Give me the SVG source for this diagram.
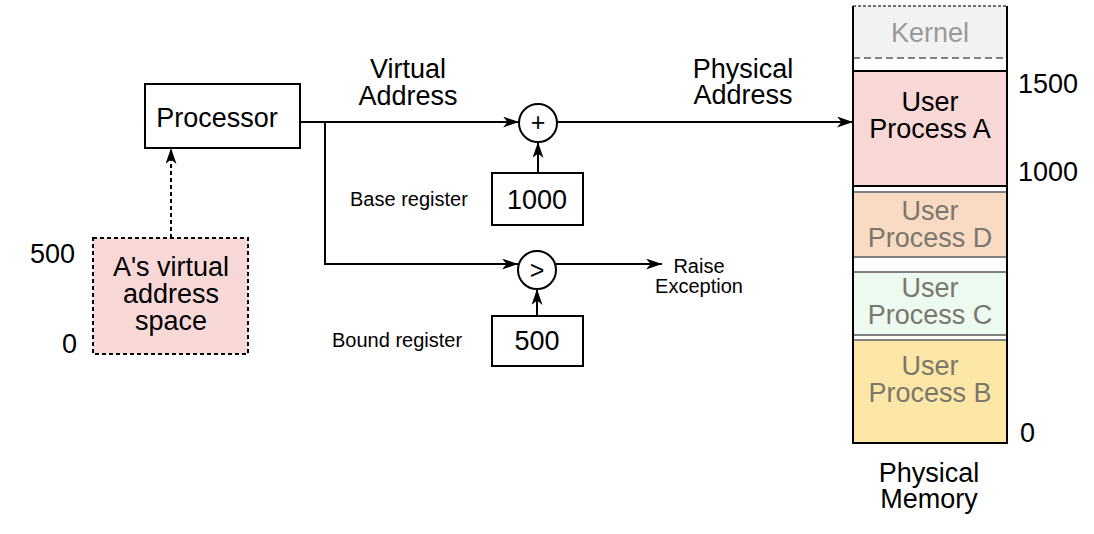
<svg xmlns="http://www.w3.org/2000/svg" width="1094" height="534" viewBox="0 0 1094 534">
<style>
text{font-family:"Liberation Sans",Arial,Helvetica,sans-serif;fill:#000}
.big{font-size:27px}
.sm{font-size:20px}
.op{font-size:25px}
.c{text-anchor:middle}
.box{fill:#fff;stroke:#000;stroke-width:2}
.ln{fill:none;stroke:#000;stroke-width:2}
.gray{fill:#7a776e}
.sep{stroke:#808080;stroke-width:2;fill:none}
</style>
<defs>
<marker id="ah" viewBox="0 0 16 11" refX="16" refY="5.5" markerWidth="16" markerHeight="11" markerUnits="userSpaceOnUse" orient="auto">
<path d="M0,0 L16,5.5 L0,11 L4.5,5.5 Z" fill="#000"/>
</marker>
</defs>
<rect width="1094" height="534" fill="#fff"/>

<g id="connectors">
<path class="ln" d="M300,122 H519" marker-end="url(#ah)"/>
<path class="ln" d="M325,122 V264 H518" marker-end="url(#ah)"/>
<path class="ln" d="M557,122 H853" marker-end="url(#ah)"/>
<path class="ln" d="M538,173 V142" marker-end="url(#ah)"/>
<path class="ln" d="M537,316 V289" marker-end="url(#ah)"/>
<path class="ln" d="M556,264 H662" marker-end="url(#ah)"/>
<path class="ln" d="M171,238 V148" stroke-dasharray="4 3" marker-end="url(#ah)"/>
<text class="big c" x="408" y="78">Virtual<tspan x="408" dy="27">Address</tspan></text>
<text class="big c" x="743" y="78">Physical<tspan x="743" dy="26">Address</tspan></text>
<text class="sm c" x="699" y="273">Raise<tspan x="699" dy="20">Exception</tspan></text>
</g>

<g id="processor">
<rect class="box" x="145" y="84" width="155" height="64"/>
<text class="big c" x="217" y="127">Processor</text>
</g>

<g id="virtual-space">
<rect x="93" y="238" width="155" height="116" fill="#f8d7d7" stroke="#000" stroke-width="2" stroke-dasharray="4 3"/>
<text class="big c" x="171" y="276">A's virtual<tspan x="171" dy="27">address</tspan><tspan x="171" dy="27">space</tspan></text>
<text class="big" x="30" y="263">500</text>
<text class="big" x="62" y="353">0</text>
</g>

<g id="adder">
<circle cx="538" cy="123" r="19" fill="#fff" stroke="#000" stroke-width="2"/>
<text class="op c" x="538" y="131">+</text>
</g>

<g id="comparator">
<circle cx="537" cy="270" r="19" fill="#fff" stroke="#000" stroke-width="2"/>
<text class="op c" x="537" y="279">&gt;</text>
</g>

<g id="base-register">
<rect class="box" x="492" y="173" width="91" height="52"/>
<text class="big c" x="537" y="209">1000</text>
<text class="sm" x="350" y="206">Base register</text>
</g>

<g id="bound-register">
<rect class="box" x="492" y="316" width="91" height="50"/>
<text class="big c" x="537" y="350">500</text>
<text class="sm" x="332" y="347">Bound register</text>
</g>

<g id="physical-memory">
<rect x="853" y="6" width="154" height="437" fill="#fff"/>
<rect x="853" y="6" width="154" height="52" fill="#f2f2f2"/>
<path d="M853,6 H1007" stroke="#444" stroke-width="1.5" stroke-dasharray="3 2"/>
<path class="sep" d="M853,58 H1007" stroke-dasharray="7 4"/>
<text class="big c" x="930" y="42" style="fill:#999">Kernel</text>

<rect x="853" y="192" width="154" height="65" fill="#f9dbc4"/>
<path class="sep" d="M853,192 H1007 M853,257 H1007"/>
<text class="big c gray" x="930" y="220">User<tspan x="930" dy="27">Process D</tspan></text>

<rect x="853" y="272" width="154" height="63" fill="#ecfaf0"/>
<path class="sep" d="M853,272 H1007 M853,335 H1007"/>
<text class="big c gray" x="930" y="297">User<tspan x="930" dy="27">Process C</tspan></text>

<rect x="853" y="340" width="154" height="103" fill="#fce7a6"/>
<path class="sep" d="M853,340 H1007"/>
<text class="big c gray" x="930" y="375">User<tspan x="930" dy="27">Process B</tspan></text>

<path d="M853,6 V443 H1007 V6" fill="none" stroke="#000" stroke-width="2"/>

<rect x="853" y="71" width="154" height="115" fill="#f8d7d7" stroke="#000" stroke-width="2"/>
<text class="big c" x="930" y="111">User<tspan x="930" dy="27">Process A</tspan></text>

<text class="big" x="1018" y="93">1500</text>
<text class="big" x="1018" y="181">1000</text>
<text class="big" x="1020" y="442">0</text>
<text class="big c" x="929" y="482">Physical<tspan x="929" dy="26">Memory</tspan></text>
</g>
</svg>
